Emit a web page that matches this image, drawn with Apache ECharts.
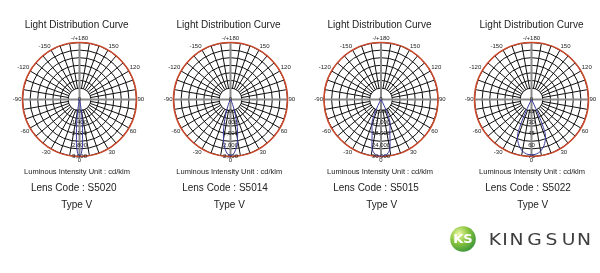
<!DOCTYPE html>
<html><head><meta charset="utf-8">
<script src="https://cdn.jsdelivr.net/npm/echarts@6/dist/echarts.min.js"></script>
<style>html,body{margin:0;padding:0;background:#fff}#c{width:600px;height:273px}</style>
</head><body><div id="c"></div>
<script>
// ---- data ----
const lensCodes = ['S5020', 'S5014', 'S5015', 'S5022'];
const radiusMax = [3500, 2500, 30000, 75];
const radiusStep = [700, 500, 6000, 15];
const angleTickLabels = ['0', '30', '60', '90', '120', '150', '-/+180', '-150', '-120', '-90', '-60', '-30'];

const anglesS5020 = [0, 2, 4, 6, 8, 10, 12, 15, 20];
const intensityS5020 = [3450, 3300, 2700, 1800, 1000, 450, 150, 50, 0];
const anglesS5014 = [0, 3, 6, 9, 12, 15, 18, 21, 25, 30, 40];
const intensityS5014 = [2450, 2400, 2200, 1900, 1500, 1050, 650, 350, 150, 50, 0];
const anglesS5015 = [0, 3, 6, 9, 11, 13, 15, 17.5, 20, 22, 24, 26, 28, 32, 40];
const intensityS5015 = [29800, 29600, 29000, 27500, 25000, 21000, 18000, 15800, 14000, 12500, 9000, 5000, 2000, 500, 0];
const anglesS5022 = [0, 5, 10, 15, 18, 20, 22, 23, 24, 25, 26, 28, 30];
const intensityS5022 = [73, 72, 69, 63, 58, 54, 48, 40, 30, 18, 8, 2, 0];

const curveAngles = [anglesS5020, anglesS5014, anglesS5015, anglesS5022];
const curveIntensity = [intensityS5020, intensityS5014, intensityS5015, intensityS5022];

// ---- layout ----
const centersX = [79.5, 230.5, 381, 531.5];
const centerY = 99.5;
const R = 57;
const ringCount = 6;

const RED = '#cc4a2e', GRID = '#111', GREY = '#8a8a8a', BLUE = '#3b3b9e', TXT = '#222';

function mirror(a, v) {
  const pts = [];
  for (let k = a.length - 1; k >= 1; k--) pts.push([v[k], 360 - a[k]]);
  for (let k = 0; k < a.length; k++) pts.push([v[k], a[k]]);
  return pts;
}

const polar = [], angleAxis = [], radiusAxis = [], series = [];
for (let i = 0; i < 4; i++) {
  const r0 = R * radiusStep[i] / radiusMax[i];
  polar.push({ center: [centersX[i], centerY], radius: [r0, R] });
  polar.push({ center: [centersX[i], centerY], radius: [0, R] });
  angleAxis.push({
    polarIndex: 2 * i, type: 'value', min: 0, max: 360, interval: 10,
    startAngle: 270, clockwise: false, z: 0,
    axisLine: { show: false }, axisTick: { show: false },
    axisLabel: {
      show: true, fontSize: 6, margin: 1, color: TXT, fontFamily: 'Liberation Sans',
      formatter: v => (v % 30 !== 0 || v >= 360) ? '' : angleTickLabels[v / 30]
    },
    splitLine: { show: true, lineStyle: { color: GRID, width: 1 } }
  });
  angleAxis.push({
    polarIndex: 2 * i + 1, type: 'value', min: 0, max: 360, interval: 90,
    startAngle: 270, clockwise: false, z: 1,
    axisLine: { show: true, lineStyle: { color: RED, width: 1.6 } },
    axisTick: { show: false }, axisLabel: { show: false },
    splitLine: { show: true, lineStyle: { color: GREY, width: 2 } }
  });
  radiusAxis.push({
    polarIndex: 2 * i, type: 'value', min: 0, max: ringCount, interval: 1, z: 0,
    axisLine: { show: false }, axisTick: { show: false }, axisLabel: { show: false },
    splitLine: { show: true, lineStyle: { color: GRID, width: 1 } }
  });
  radiusAxis.push({
    polarIndex: 2 * i + 1, type: 'value', min: 0, max: radiusMax[i], interval: radiusStep[i], z: 2,
    axisLine: { show: false }, axisTick: { show: false },
    axisLabel: { show: true, fontSize: 6, margin: 0, align: 'center', verticalAlign: 'middle', color: TXT, fontFamily: 'Liberation Sans' },
    splitLine: { show: false }
  });
  series.push({
    type: 'line', coordinateSystem: 'polar', polarIndex: 2 * i + 1,
    data: mirror(curveAngles[i], curveIntensity[i]),
    symbol: 'none', smooth: 0.3, clip: false, z: 3,
    lineStyle: { color: BLUE, width: 1 }
  });
}

// ---- texts ----
const titleX = [76.7, 228.5, 379.5, 531.5];
const unitX = [77, 229.3, 380, 532];
const codeX = [73.7, 225, 376, 528];
const typeX = [76.7, 229.3, 381.7, 532.7];
const graphic = [];
function txt(x, y, s, size) {
  graphic.push({
    type: 'text', x: x, y: y, silent: true,
    style: { text: s, fill: TXT, font: size + 'px "Liberation Sans", Arial, sans-serif', textAlign: 'center', textVerticalAlign: 'middle' }
  });
}
for (let i = 0; i < 4; i++) {
  txt(titleX[i], 25, 'Light Distribution Curve', 10);
  txt(unitX[i], 172, 'Luminous Intensity Unit : cd/klm', 7.5);
  txt(codeX[i], 188.5, 'Lens Code : ' + lensCodes[i], 10);
  txt(typeX[i], 205, 'Type V', 10);
}
// logo
graphic.push({
  type: 'circle', shape: { cx: 463, cy: 239, r: 12.8 }, silent: true,
  style: { fill: { type: 'radial', x: 0.35, y: 0.3, r: 0.8, colorStops: [
    { offset: 0, color: '#eef7a8' }, { offset: 0.45, color: '#8cc63f' }, { offset: 1, color: '#2f8f3a' }] } }
});
graphic.push({ type: 'text', x: 463, y: 239.5, silent: true,
  style: { text: 'KS', fill: '#fff', font: 'bold 13px "DejaVu Sans", sans-serif', textAlign: 'center', textVerticalAlign: 'middle' } });
const logoLetters = ['K', 'I', 'N', 'G', 'S', 'U', 'N'];
const logoLetterX = [495, 505, 516.5, 534.5, 551.5, 568.5, 584];
logoLetters.forEach((ch, k) => {
  graphic.push({ type: 'text', x: logoLetterX[k], y: 241, scaleX: 1.25, silent: true,
    style: { text: ch, fill: '#3d3d3d', font: '15px "DejaVu Sans", sans-serif', textAlign: 'center', textVerticalAlign: 'middle' } });
});

const chart = echarts.init(document.getElementById('c'), null, { renderer: 'canvas' });
chart.setOption({
  animation: false,
  backgroundColor: '#fff',
  polar, angleAxis, radiusAxis, series, graphic
});
</script></body></html>
